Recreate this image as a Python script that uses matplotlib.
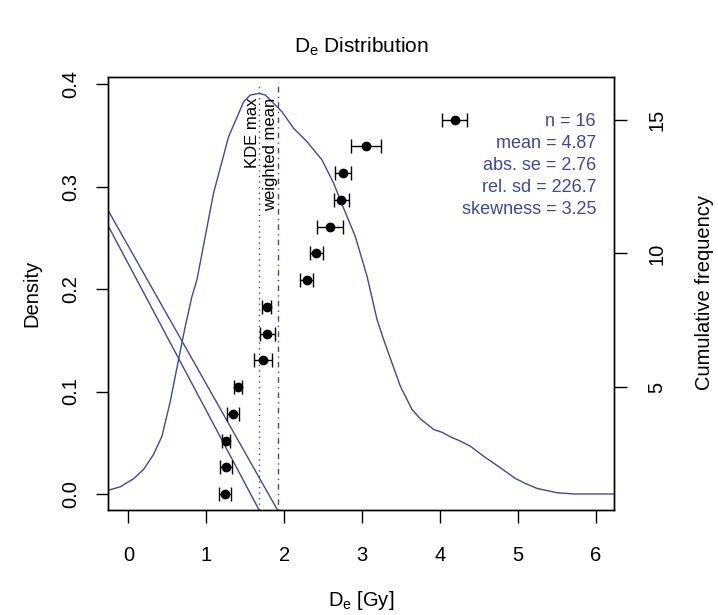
import matplotlib
matplotlib.use('Agg')
import matplotlib.pyplot as plt

plt.rcParams['font.family'] = ['Liberation Sans', 'DejaVu Sans']
plt.rcParams['mathtext.fontset'] = 'custom'
plt.rcParams['mathtext.rm'] = 'Liberation Sans'
plt.rcParams['mathtext.it'] = 'Liberation Sans'

# KDE curve (De in Gy, density)
kde_x = [-0.255, -0.105, 0.065, 0.194, 0.322, 0.430, 0.537, 0.643, 0.729, 0.815,
         0.879, 1.092, 1.285, 1.478, 1.564, 1.677, 1.756, 1.863, 1.970, 2.119,
         2.291, 2.484, 2.633, 2.761, 2.911, 3.062, 3.190, 3.275, 3.489, 3.639,
         3.746, 3.917, 4.024, 4.131, 4.237, 4.388, 4.558, 4.773, 4.965, 5.094,
         5.244, 5.501, 5.714, 6.227]
kde_y = [0.0037, 0.0070, 0.0148, 0.0239, 0.0385, 0.0563, 0.0904, 0.1311, 0.1635, 0.1928,
         0.2091, 0.2936, 0.3487, 0.3828, 0.3894, 0.3910, 0.3894, 0.3813, 0.3731, 0.3569,
         0.3439, 0.3260, 0.3033, 0.2789, 0.2513, 0.2123, 0.1701, 0.1506, 0.1051, 0.0824,
         0.0733, 0.0629, 0.0602, 0.0557, 0.0524, 0.0466, 0.0368, 0.0255, 0.0151, 0.0102,
         0.0054, 0.0012, 0.0, 0.0]

# sorted De values and their errors (last one is an outlier off the plot)
de_values = [1.243, 1.255, 1.252, 1.341, 1.406, 1.730, 1.782, 1.773, 2.286, 2.411,
             2.590, 2.732, 2.748, 3.049, 4.186, 46.1]
de_errors = [0.077, 0.077, 0.050, 0.077, 0.051, 0.113, 0.098, 0.060, 0.088, 0.087,
             0.167, 0.094, 0.103, 0.190, 0.162, 2.5]
ranks = list(range(1, len(de_values) + 1))

kde_max = 1.677
weighted_mean = 1.913
line_top = 0.402

# the two straight lines from the left frame down to the bottom frame
diag_upper_x = [-0.262, 1.913]
diag_upper_y = [0.277, -0.0157]
diag_lower_x = [-0.262, 1.677]
diag_lower_y = [0.262, -0.0157]

stats = ['n = 16', 'mean = 4.87', 'abs. se = 2.76', 'rel. sd = 226.7', 'skewness = 3.25']

blue = '#3F489D'
W, H = 718, 615
lw = 1.0

fig = plt.figure(figsize=(W / 100, H / 100), dpi=100)
ax = fig.add_axes([108 / W, 1 - 510 / H, (614 - 108) / W, (510 - 77) / H])
ax2 = ax.twinx()

ax.set_xlim(-0.262, 6.23)
ax.set_ylim(-0.01565, 0.4070)
ax2.set_ylim(0.4, 16.6)

ax.plot(kde_x, kde_y, color=blue, lw=lw)
ax.plot(diag_upper_x, diag_upper_y, color=blue, lw=lw)
ax.plot(diag_lower_x, diag_lower_y, color=blue, lw=lw)
ax.plot([kde_max, kde_max], [-0.01565, line_top], color=blue, lw=lw, ls=(0, (1, 3)))
ax.plot([weighted_mean, weighted_mean], [-0.01565, line_top], color=blue, lw=lw,
        ls=(0, (1, 3, 4, 3)))

ax.text(kde_max - 0.09, 0.387, 'KDE max', rotation=90, ha='center', va='top', fontsize=12)
ax.text(weighted_mean - 0.09, 0.387, 'weighted mean', rotation=90, ha='center', va='top',
        fontsize=12)

ax2.errorbar(de_values, ranks, xerr=de_errors, fmt='o', color='black', ms=6,
             elinewidth=1, capsize=5, capthick=1)

fig.text(596 / W, 1 - 113 / H, '\n'.join(stats), ha='right', va='top',
         fontsize=13, color=blue, linespacing=1.38)

ax.set_xticks(range(0, 7))
ax.set_yticks([0.0, 0.1, 0.2, 0.3, 0.4])
ax.set_yticklabels(['0.0', '0.1', '0.2', '0.3', '0.4'])
ax2.set_yticks([5, 10, 15])

ax.tick_params(axis='x', length=9, width=1, pad=17, labelsize=14.5)
ax.tick_params(axis='y', length=9, width=1, pad=18, labelsize=14.5, labelrotation=90)
ax2.tick_params(axis='y', length=9, width=1, pad=22, labelsize=14.5, labelrotation=90)
for lab in ax.get_yticklabels() + ax2.get_yticklabels():
    lab.set_horizontalalignment('center')
    lab.set_verticalalignment('center')

for a in (ax, ax2):
    for s in a.spines.values():
        s.set_linewidth(1)

fig.text(361 / W, 1 - 47 / H, r'$\mathrm{D_e}$ Distribution', ha='center', va='center',
         fontsize=15)
fig.text(361 / W, 1 - 600 / H, r'$\mathrm{D_e}$ [Gy]', ha='center', va='center',
         fontsize=14.5)
fig.text(32 / W, 1 - 293 / H, 'Density', rotation=90, ha='center', va='center',
         fontsize=14.5)
fig.text(705 / W, 1 - 293 / H, 'Cumulative frequency', rotation=90, ha='center',
         va='center', fontsize=14.5)

fig.savefig('out.png', dpi=100)
